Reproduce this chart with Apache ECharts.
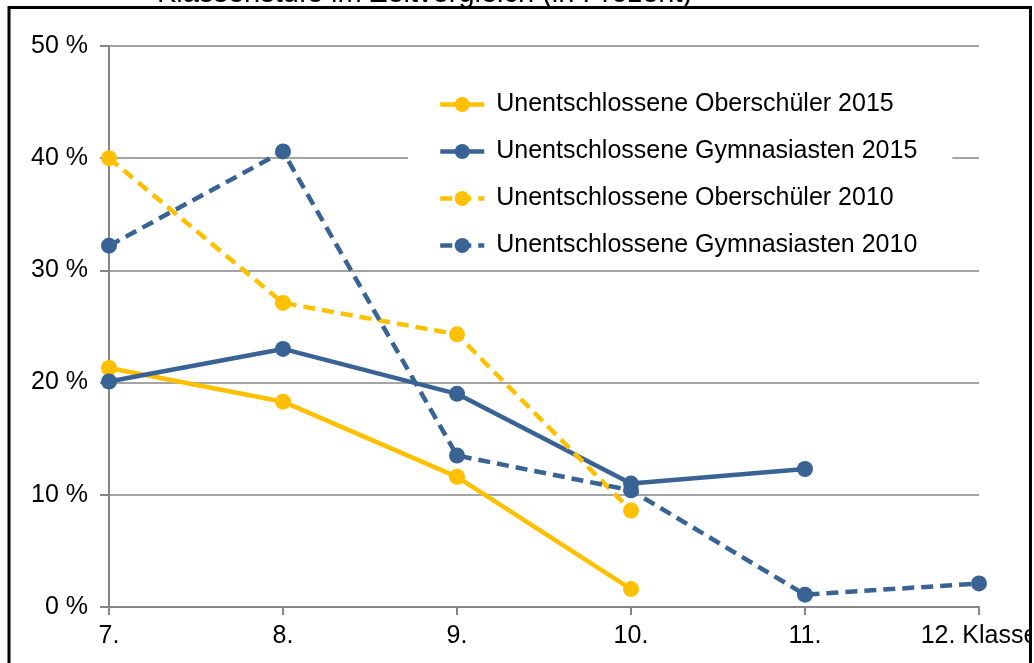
<!DOCTYPE html>
<html>
<head>
<meta charset="utf-8">
<script src="https://cdn.jsdelivr.net/npm/echarts@6/dist/echarts.min.js"></script>
<style>
html,body{margin:0;padding:0;background:#fff;}
#chart{width:1034px;height:663px;}
</style>
</head>
<body>
<div id="chart"></div>
<script>
const categories = ['7.', '8.', '9.', '10.', '11.', '12. Klasse'];
const oberschueler2015 = [21.3, 18.3, 11.6, 1.6, null, null];
const gymnasiasten2015 = [20.1, 23.0, 19.0, 11.0, 12.3, null];
const oberschueler2010 = [40.0, 27.1, 24.3, 8.6, null, null];
const gymnasiasten2010 = [32.2, 40.6, 13.5, 10.4, 1.1, 2.1];
const yTicks = [0, 10, 20, 30, 40, 50];
const titleText = 'Klassenstufe im Zeitvergleich (in Prozent)';

const YELLOW = '#FFC000';
const BLUE = '#386394';
const FONT = '"Liberation Sans", Arial, sans-serif';

function mk(name, data, color, dashed) {
  return {
    name: name,
    type: 'line',
    data: data,
    color: color,
    symbol: 'circle',
    symbolSize: 16,
    connectNulls: false,
    lineStyle: { color: color, width: 4.5, type: dashed ? [12, 7] : 'solid' },
    itemStyle: { color: color },
    emphasis: { disabled: true },
    animation: false
  };
}

const chart = echarts.init(document.getElementById('chart'), null, { renderer: 'canvas' });
chart.setOption({
  backgroundColor: '#ffffff',
  animation: false,
  textStyle: { fontFamily: FONT },
  grid: { left: 109, right: 55, top: 46, bottom: 56, containLabel: false, outerBoundsMode: 'none' },
  xAxis: {
    type: 'category',
    data: categories,
    boundaryGap: false,
    axisLine: { lineStyle: { color: '#868686', width: 2 } },
    axisTick: { show: true, length: 8, inside: false, lineStyle: { color: '#868686', width: 2 } },
    axisLabel: { color: '#000', fontSize: 25, fontFamily: FONT, margin: 17, interval: 0, hideOverlap: false },
    splitLine: { show: false }
  },
  yAxis: {
    type: 'value',
    min: yTicks[0],
    max: yTicks[yTicks.length - 1],
    interval: 10,
    axisLine: { show: true, lineStyle: { color: '#868686', width: 2 } },
    axisTick: { show: true, length: 9, inside: false, lineStyle: { color: '#868686', width: 2 } },
    axisLabel: { color: '#000', fontSize: 25, fontFamily: FONT, margin: 21, formatter: '{value} %' },
    splitLine: { show: true, lineStyle: { color: '#868686', width: 1.5 } }
  },
  legend: {
    orient: 'vertical',
    left: 408,
    top: 82,
    padding: [10, 35, 10, 30],
    backgroundColor: '#ffffff',
    itemWidth: 44,
    itemHeight: 19,
    itemGap: 22,
    lineStyle: { width: 4.5 },
    textStyle: { color: '#000', fontSize: 25, fontFamily: FONT, lineHeight: 25, padding: [0, 0, 0, 7] },
    data: ['Unentschlossene Oberschüler 2015', 'Unentschlossene Gymnasiasten 2015',
           'Unentschlossene Oberschüler 2010', 'Unentschlossene Gymnasiasten 2010'],
    selectedMode: false,
    z: 10
  },
  series: [
    mk('Unentschlossene Oberschüler 2015', oberschueler2015, YELLOW, false),
    mk('Unentschlossene Gymnasiasten 2015', gymnasiasten2015, BLUE, false),
    mk('Unentschlossene Oberschüler 2010', oberschueler2010, YELLOW, true),
    mk('Unentschlossene Gymnasiasten 2010', gymnasiasten2010, BLUE, true)
  ],
  graphic: [
    { type: 'text', left: 157, top: -21, z: 100,
      style: { text: titleText, fontSize: 29, fontFamily: FONT, fill: '#000' } },
    { type: 'rect', shape: { x: 1032, y: 0, width: 4, height: 663 }, style: { fill: '#fff' }, z: 100 },
    { type: 'line', shape: { x1: 8, y1: 7.5, x2: 1032, y2: 7.5 }, style: { stroke: '#000', lineWidth: 3 }, z: 101 },
    { type: 'line', shape: { x1: 9, y1: 6, x2: 9, y2: 663 }, style: { stroke: '#000', lineWidth: 3 }, z: 101 },
    { type: 'line', shape: { x1: 1030.5, y1: 6, x2: 1030.5, y2: 663 }, style: { stroke: '#000', lineWidth: 3 }, z: 101 }
  ]
});
</script>
</body>
</html>
